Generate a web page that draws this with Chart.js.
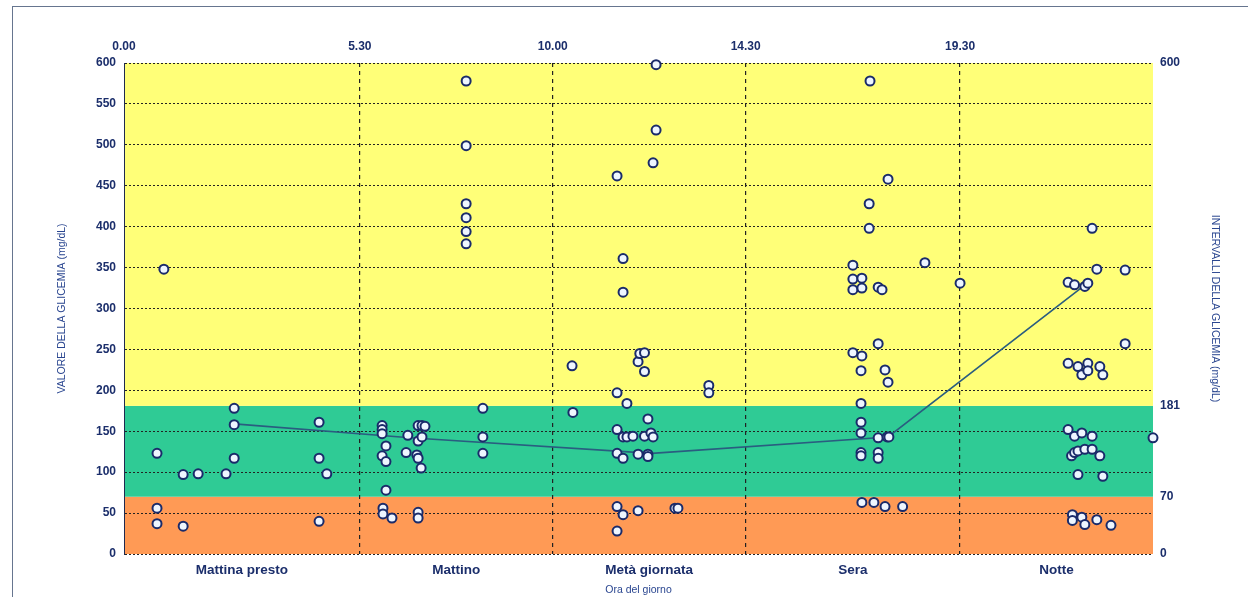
<!DOCTYPE html>
<html lang="it">
<head>
<meta charset="utf-8">
<title>Glicemia per fascia oraria</title>
<script src="https://cdn.jsdelivr.net/npm/chart.js@4/dist/chart.umd.min.js"></script>
<style>
  html, body { margin: 0; padding: 0; background: #fff; overflow: hidden; }
  #wrap { position: relative; width: 1248px; height: 597px; }
  #frame { position: absolute; left: 12px; top: 6px; width: 1300px; height: 700px;
           border: 1.5px solid #66758f; box-sizing: border-box; }
  canvas { position: absolute; left: 0; top: 0; }
</style>
</head>
<body>
<div id="wrap">
  <div id="frame"></div>
  <canvas id="c" width="1248" height="597"></canvas>
</div>
<script>
// Readings per time slot: [hour of day, glucose mg/dL]
const mattinaPresto = [[0.93,348],[0.77,123],[0.77,56],[0.77,37],[1.38,97],[1.38,34],[1.73,98],[2.38,98],
  [2.57,178],[2.57,158],[2.57,117],[4.55,161],[4.55,117],[4.55,40],[4.73,98]];
const mattino = [[6.02,157],[6.02,152],[6.02,147],[6.02,120],[6.04,56],[6.04,49],[6.11,132],[6.11,113],
  [6.11,78],[6.25,44],[6.58,124],[6.62,145],[6.83,121],[6.86,157],[6.86,138],[6.86,117],[6.93,105],
  [6.86,51],[6.86,44],[6.95,157],[6.95,143],[7.02,156],[7.98,578],[7.98,499],[7.98,428],[7.98,411],
  [7.98,394],[7.98,379],[8.37,178],[8.37,143],[8.37,123]];
const metaGiornata = [[10.45,230],[10.47,173],[11.50,462],[11.50,197],[11.50,152],[11.50,123],[11.50,58],
  [11.50,28],[11.64,361],[11.64,320],[11.64,143],[11.64,117],[11.64,48],[11.73,184],[11.73,143],
  [11.87,144],[11.99,235],[11.99,122],[11.99,53],[12.03,245],[12.14,246],[12.14,223],[12.14,144],
  [12.22,165],[12.22,122],[12.22,119],[12.29,148],[12.34,478],[12.34,143],[12.41,598],[12.41,518],
  [12.85,56],[12.92,56],[13.64,206],[13.64,197]];
const sera = [[17.00,353],[17.00,336],[17.00,323],[17.00,246],[17.40,578],[17.38,428],[17.38,398],
  [17.21,337],[17.21,325],[17.21,242],[17.19,224],[17.19,184],[17.19,161],[17.19,148],[17.19,124],
  [17.19,120],[17.21,63],[17.49,63],[17.59,326],[17.59,257],[17.59,142],[17.59,124],[17.59,117],
  [17.68,323],[17.75,225],[17.75,58],[17.80,143],[17.82,458],[17.82,210],[17.84,143],[18.16,58],
  [18.68,356],[19.50,331]];
const notte = [[22.02,332],[22.02,233],[22.02,152],[22.10,120],[22.12,48],[22.12,41],[22.17,329],
  [22.17,144],[22.17,124],[22.25,229],[22.25,126],[22.25,97],[22.34,219],[22.34,148],[22.34,45],
  [22.41,327],[22.41,128],[22.41,36],[22.48,331],[22.48,233],[22.48,224],[22.58,398],[22.58,144],
  [22.58,128],[22.69,348],[22.69,42],[22.76,229],[22.76,120],[22.83,219],[22.83,95],[23.02,35],
  [23.35,347],[23.35,257],[24.00,142]];

// Trend line across the five time slots
const andamento = [[2.57,159],[6.67,142],[12.31,123],[17.82,143],[22.32,325]];

// Axis labels
const periodNames = ['Mattina presto', 'Mattino', 'Metà giornata', 'Sera', 'Notte'];
const periodCenters = [2.75, 7.75, 12.25, 17, 21.75];
const hourTicks = [0, 5.5, 10, 14.5, 19.5];
const hourLabels = ['0.00', '5.30', '10.00', '14.30', '19.30'];
const rangeTicks = [0, 70, 181, 600];

// Glucose ranges shaded behind the readings: low / target / high
const bandLimits = [0, 70, 181, 600];
const bandColors = ['#ff9a55', '#2fcb95', '#ffff78'];

const NAVY = '#1b2e6b';
const TITLE_BLUE = '#2a4690';
const FONT = "'Liberation Sans', Arial, sans-serif";

const toXY = arr => arr.map(([x, y]) => ({ x, y }));
const readings = [...mattinaPresto, ...mattino, ...metaGiornata, ...sera, ...notte];

const bandsPlugin = {
  id: 'bands',
  beforeDraw(chart) {
    const { ctx, chartArea, scales } = chart;
    const y = scales.y;
    ctx.save();
    for (let i = 0; i < bandColors.length; i++) {
      const top = y.getPixelForValue(bandLimits[i + 1]);
      const bottom = y.getPixelForValue(bandLimits[i]);
      ctx.fillStyle = bandColors[i];
      ctx.fillRect(chartArea.left, top, chartArea.right - chartArea.left, bottom - top);
    }
    ctx.restore();
  }
};

new Chart(document.getElementById('c'), {
  type: 'scatter',
  data: {
    datasets: [
      {
        label: 'Glicemia',
        data: toXY(readings),
        order: 0,
        clip: false,
        pointRadius: 4.5,
        pointBorderWidth: 2,
        pointBorderColor: '#1a2b6a',
        pointBackgroundColor: '#eef6ff'
      },
      {
        label: 'Andamento',
        type: 'line',
        data: toXY(andamento),
        order: 1,
        showLine: true,
        borderColor: '#2a5d80',
        borderWidth: 1.6,
        pointRadius: 0,
        tension: 0,
        fill: false
      }
    ]
  },
  options: {
    responsive: false,
    devicePixelRatio: 1,
    animation: false,
    events: [],
    layout: { padding: { left: 50, right: 21, top: 0, bottom: 0 } },
    plugins: { legend: { display: false }, tooltip: { enabled: false } },
    scales: {
      x: {
        type: 'linear', position: 'bottom', min: 0, max: 24,
        afterBuildTicks: s => { s.ticks = periodCenters.map(v => ({ value: v })); },
        afterFit: s => { s.height = 43; },
        ticks: {
          autoSkip: false, maxRotation: 0, padding: 8, color: NAVY,
          font: { family: FONT, size: 13.5, weight: 'bold' },
          callback: (v, i) => periodNames[i]
        },
        grid: { display: false, drawTicks: false },
        border: { display: false },
        title: {
          display: true, text: 'Ora del giorno', color: TITLE_BLUE,
          font: { family: FONT, size: 10.5 }, padding: { top: 0, bottom: 1 }
        }
      },
      xTop: {
        type: 'linear', position: 'top', min: 0, max: 24,
        afterBuildTicks: s => { s.ticks = hourTicks.map(v => ({ value: v })); },
        afterFit: s => { s.height = 63; },
        ticks: {
          autoSkip: false, maxRotation: 0, padding: 9, color: NAVY,
          font: { family: FONT, size: 12, weight: 'bold' },
          callback: (v, i) => hourLabels[i]
        },
        grid: {
          drawTicks: false, lineWidth: 1.2,
          color: c => (c.tick && c.tick.value === 0) ? 'rgba(0,0,0,0)' : '#222'
        },
        border: { display: false, dash: [4, 4] }
      },
      y: {
        type: 'linear', position: 'left', min: 0, max: 600,
        afterFit: s => { s.width = 74; },
        ticks: {
          stepSize: 50, padding: 8, color: NAVY,
          font: { family: FONT, size: 12, weight: 'bold' }
        },
        grid: { drawTicks: false, color: '#222', lineWidth: 1 },
        border: { display: true, color: '#1f2a50', width: 1, dash: [2, 2] },
        title: {
          display: true, text: 'VALORE DELLA GLICEMIA (mg/dL)', color: TITLE_BLUE,
          font: { family: FONT, size: 10.5 }, padding: { top: 6, bottom: 0 }
        }
      },
      y2: {
        type: 'linear', position: 'right', min: 0, max: 600,
        afterBuildTicks: s => { s.ticks = rangeTicks.map(v => ({ value: v })); },
        afterFit: s => { s.width = 74; },
        ticks: {
          autoSkip: false, padding: 7, color: NAVY,
          font: { family: FONT, size: 12, weight: 'bold' }
        },
        grid: { display: false, drawTicks: false },
        border: { display: false },
        title: {
          display: true, text: 'INTERVALLI DELLA GLICEMIA (mg/dL)', color: TITLE_BLUE,
          font: { family: FONT, size: 10.5 }, padding: { top: 6, bottom: 0 }
        }
      }
    }
  },
  plugins: [bandsPlugin]
});
</script>
</body>
</html>
